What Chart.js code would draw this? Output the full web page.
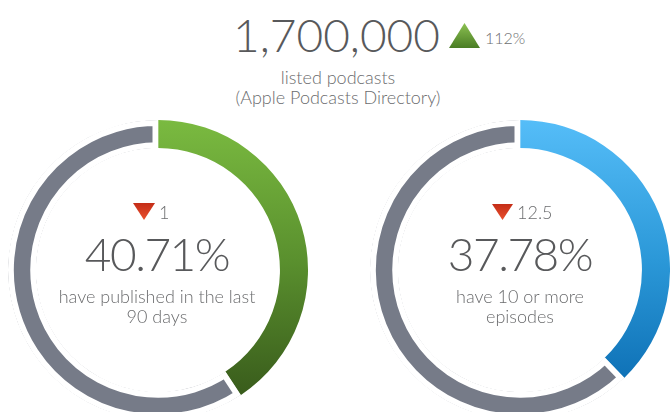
<!DOCTYPE html>
<html>
<head>
<meta charset="utf-8">
<script src="https://cdn.jsdelivr.net/npm/chart.js@4"></script>
<style>
  html, body { margin: 0; padding: 0; background: #fff; }
  body { width: 672px; height: 412px; position: relative; overflow: hidden;
         font-family: "Lato", "Open Sans", sans-serif; font-weight: 300; color: #666; }
  .abs { position: absolute; white-space: nowrap; }
  .big { font-size: 46px; line-height: 46px; color: #58595b; text-align: center; }
  .pct { letter-spacing: -1.5px; }
  .lbl { font-size: 18px; line-height: 20px; color: #6b6c6e; text-align: center; }
  .chg { font-size: 18px; line-height: 18px; color: #6d6e70; }
  .up { clip-path: polygon(50% 0, 100% 100%, 0 100%);
        background: linear-gradient(#8cc152, #4a7d24); }
  .down { clip-path: polygon(0 0, 100% 0, 50% 100%);
          background: linear-gradient(#c42d17, #e9502e); }
  canvas { position: absolute; }
</style>
</head>
<body>
<div class="abs big" style="left:0; width:673px; top:12px;" id="headValue"></div>
<div class="abs up" style="left:449px; top:23px; width:31px; height:25px;"></div>
<div class="abs" style="left:485px; top:30px; font-size:16px; line-height:16px; color:#6d6e70;" id="headChange"></div>
<div class="abs lbl" style="left:0; width:676px; top:67px;" id="headLabel"></div>

<canvas id="ringLeft" width="300" height="300" style="left:8px; top:120px;"></canvas>
<canvas id="ringRight" width="300" height="300" style="left:370px; top:120px;"></canvas>

<div class="abs down" style="left:133px; top:203px; width:22px; height:17px;"></div>
<div class="abs chg" style="left:159px; top:203px;" id="chgLeft"></div>
<div class="abs big pct" style="left:0; width:314px; top:231px;" id="pctLeft"></div>
<div class="abs lbl" style="left:0; width:314px; top:286px;" id="lblLeft"></div>

<div class="abs down" style="left:492px; top:204px; width:21px; height:16px;"></div>
<div class="abs chg" style="left:517px; top:203px;" id="chgRight"></div>
<div class="abs big pct" style="left:370px; width:300px; top:231px;" id="pctRight"></div>
<div class="abs lbl" style="left:370px; width:300px; top:286px;" id="lblRight"></div>

<script>
// headline
const headlineValue = "1,700,000";
const headlineChange = "112%";
const headlineLabel = ["listed podcasts", "(Apple Podcasts Directory)"];

// rings
const ringLabels = ["Yes", "No"];
const publishedValues = [40.71, 59.29];
const episodesValues = [37.78, 62.22];
const ringChanges = ["1", "12.5"];
const ringCaptions = [
  ["have published in the last", "90 days"],
  ["have 10 or more", "episodes"],
];

const GRAY = "#767b88";

document.getElementById("headValue").textContent = headlineValue;
document.getElementById("headChange").textContent = headlineChange;
document.getElementById("headLabel").innerHTML = headlineLabel.join("<br>");

function ringFill(stops) {
  return (ctx) => {
    if (ctx.dataIndex === 1) return GRAY;
    const chart = ctx.chart;
    const g = chart.ctx.createLinearGradient(0, 0, 0, 280);
    stops.forEach(([pos, col]) => g.addColorStop(pos, col));
    return g;
  };
}

function makeRing(id, values, stops) {
  return new Chart(document.getElementById(id), {
    type: "doughnut",
    data: {
      labels: ringLabels,
      datasets: [{
        data: values,
        backgroundColor: ringFill(stops),
        borderColor: "#ffffff",
        borderWidth: [0, 5.5],
        hoverBorderWidth: 0,
        borderAlign: ["center", "inner"],
        borderJoinStyle: "miter",
      }],
    },
    options: {
      responsive: false,
      animation: false,
      events: [],
      radius: 150,
      cutout: "81.3%",
      layout: { padding: 0 },
      plugins: { legend: { display: false }, tooltip: { enabled: false } },
    },
  });
}

makeRing("ringLeft", publishedValues, [[0, "#7aba40"], [0.5, "#5a902e"], [1, "#385a1b"]]);
makeRing("ringRight", episodesValues, [[0, "#55bdf8"], [0.5, "#2b98d8"], [1, "#0a6bb1"]]);

document.getElementById("chgLeft").textContent = ringChanges[0];
document.getElementById("chgRight").textContent = ringChanges[1];
document.getElementById("pctLeft").textContent = publishedValues[0].toFixed(2) + "%";
document.getElementById("pctRight").textContent = episodesValues[0].toFixed(2) + "%";
document.getElementById("lblLeft").innerHTML = ringCaptions[0].join("<br>");
document.getElementById("lblRight").innerHTML = ringCaptions[1].join("<br>");
</script>
</body>
</html>
